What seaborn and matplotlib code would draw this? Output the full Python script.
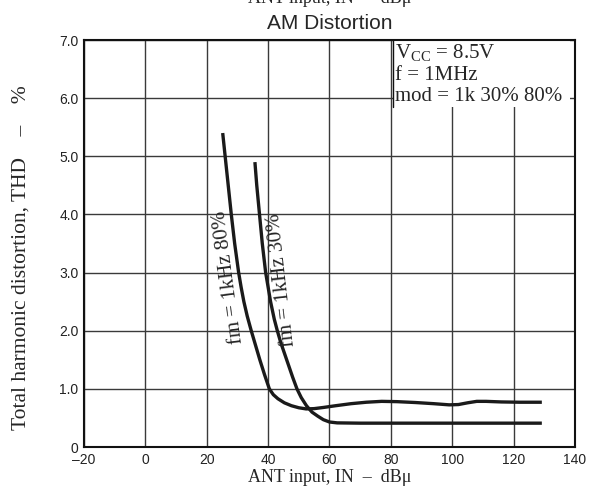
import pandas as pd
import matplotlib
matplotlib.use("Agg")
import matplotlib.pyplot as plt
import seaborn as sns
from matplotlib.patches import Rectangle

# curve: fm = 1kHz 80%
in_80 = [25.2, 26.0, 27.0, 28.0, 29.1, 30.4, 31.2, 32.1, 33.2, 34.5, 35.9, 37.3,
         38.8, 40.4, 41.7, 43.2, 45.3, 47.6, 50.0, 52.4, 55.0, 58.0, 62.0, 67.0,
         72.0, 77.0, 82.0, 88.0, 94.0, 99.0, 102.0, 105.0, 108.0, 111.0, 116.0,
         122.0, 129.2]
thd_80 = [5.40, 5.00, 4.50, 4.00, 3.50, 3.00, 2.75, 2.50, 2.25, 2.00, 1.75, 1.50,
          1.25, 1.00, 0.90, 0.83, 0.76, 0.71, 0.675, 0.655, 0.66, 0.68, 0.71, 0.745,
          0.77, 0.785, 0.78, 0.765, 0.745, 0.725, 0.73, 0.76, 0.785, 0.785, 0.775,
          0.77, 0.77]

# curve: fm = 1kHz 30%
in_30 = [35.7, 36.3, 37.2, 38.1, 39.2, 40.8, 42.0, 43.0, 44.1, 45.4, 46.7, 48.0,
         49.4, 50.8, 52.5, 54.3, 56.2, 58.0, 60.0, 62.5, 70.0, 129.2]
thd_30 = [4.90, 4.50, 4.00, 3.50, 3.00, 2.50, 2.20, 2.00, 1.80, 1.60, 1.40, 1.20,
          1.00, 0.85, 0.71, 0.60, 0.53, 0.47, 0.43, 0.415, 0.41, 0.41]

x_ticks = [-20, 0, 20, 40, 60, 80, 100, 120, 140]
y_ticks = [0, 1, 2, 3, 4, 5, 6, 7]
y_labels = ["0", "1.0", "2.0", "3.0", "4.0", "5.0", "6.0", "7.0"]

df = pd.concat([
    pd.DataFrame({"ant": in_80, "thd": thd_80, "curve": "80%"}),
    pd.DataFrame({"ant": in_30, "thd": thd_30, "curve": "30%"}),
])

sns.set_style("white")
plt.rcParams["font.family"] = ["Liberation Sans", "DejaVu Sans"]
plt.rcParams["mathtext.fontset"] = "custom"
plt.rcParams["mathtext.rm"] = "Liberation Serif"
serif = ["Liberation Serif", "DejaVu Serif"]

fig = plt.figure(figsize=(5.89, 4.97), dpi=100)
ax = fig.add_axes([0.1426, 0.1006, 0.8336, 0.8189])

ax.set_xlim(-20, 140)
ax.set_ylim(0, 7)
ax.set_xticks(x_ticks)
ax.set_xticklabels([str(t).replace("-", "\u2013") for t in x_ticks])
ax.set_yticks(y_ticks)
ax.set_yticklabels(y_labels)
ax.tick_params(length=0, labelsize=10, colors="#222222", pad=4)
ax.grid(True, color="#3a3a3a", linewidth=1.0)
for s in ax.spines.values():
    s.set_color("#111111")
    s.set_linewidth(1.5)

sns.lineplot(data=df, x="ant", y="thd", hue="curve", palette=["#1a1a1a", "#1a1a1a"],
             estimator=None, sort=False, linewidth=2.4, legend=False, ax=ax, zorder=3,
             solid_joinstyle="round", solid_capstyle="butt")

# conditions box in upper right
ax.add_patch(Rectangle((80.6, 5.85), 57.8, 1.15, facecolor="white",
                       edgecolor="none", zorder=2))
ax.plot([80.6, 80.6], [5.85, 7.0], color="#111111", linewidth=1.0, zorder=2)
ax.text(81.4, 6.69, r"V$_{\rm CC}$ = 8.5V", family=serif, fontsize=15, va="baseline", zorder=4)
ax.text(81.4, 6.31, "f = 1MHz", family=serif, fontsize=15, va="baseline", zorder=4)
ax.text(81.4, 5.95, "mod = 1k 30% 80%", family=serif, fontsize=15, va="baseline", zorder=4)

# curve labels, tilted along the curves
ax.text(27.3, 2.92, "fm = 1kHz 80%", family=serif, fontsize=15, rotation=97.5,
        ha="center", va="center", zorder=4)
ax.text(44.5, 2.88, "fm = 1kHz 30%", family=serif, fontsize=15, rotation=96.5,
        ha="center", va="center", zorder=4)

ax.set_xlabel("ANT input, IN  \u2013  dB\u03bc", family=serif, fontsize=13, labelpad=2)
ax.set_ylabel("Total harmonic distortion, THD    \u2013    %", family=serif, fontsize=15.5)
ax.yaxis.set_label_coords(-0.108, 0.465)
ax.set_title("AM Distortion", fontsize=15, pad=8)

# leftover caption cut at the top edge of the picture
fig.text(0.5594, 1 - 3 / 497, "ANT input, IN  \u2013  dB\u03bc", family=serif,
         fontsize=13, ha="center", va="baseline")

fig.savefig("out.png", dpi=100)
